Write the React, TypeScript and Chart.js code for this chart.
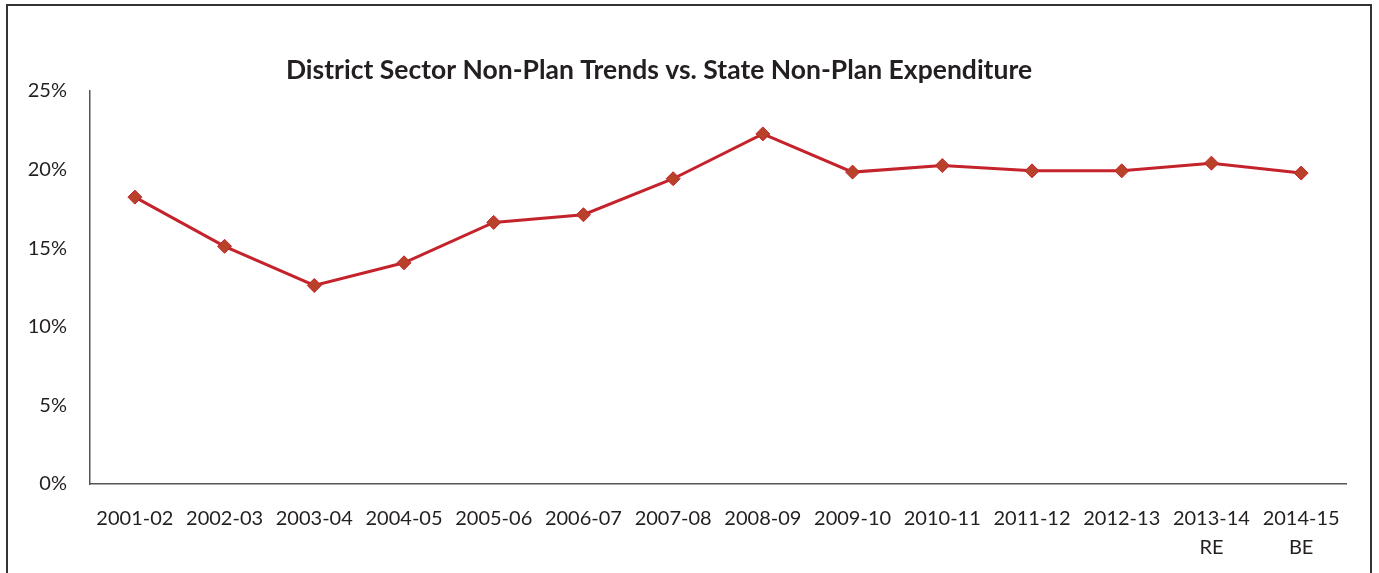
import React, { useEffect, useRef } from "react";
import { Chart, registerables } from "chart.js";

Chart.register(...registerables);

const categories: (string | string[])[] = [
  "2001-02", "2002-03", "2003-04", "2004-05", "2005-06", "2006-07", "2007-08",
  "2008-09", "2009-10", "2010-11", "2011-12", "2012-13", ["2013-14", "RE"], ["2014-15", "BE"],
];
const shareValues: number[] = [
  18.25, 15.12, 12.63, 14.07, 16.64, 17.13, 19.42, 22.27, 19.84, 20.26, 19.92, 19.92, 20.41, 19.78,
];
const yTicks: number[] = [0, 5, 10, 15, 20, 25];
const titleText = "District Sector Non-Plan Trends vs. State Non-Plan Expenditure";

const FONT = "Lato, 'Noto Sans', sans-serif";

export default function App() {
  const ref = useRef<HTMLCanvasElement | null>(null);
  useEffect(() => {
    if (!ref.current) return;
    const titlePlugin = {
      id: "customTitle",
      afterDraw(chart: any) {
        const ctx = chart.ctx;
        ctx.save();
        ctx.font = `bold 26.5px ${FONT}`;
        ctx.fillStyle = "#231f20";
        ctx.textAlign = "center";
        ctx.textBaseline = "middle";
        ctx.fillText(titleText, 659, 70);
        ctx.restore();
      },
    };
    const chart = new Chart(ref.current, {
      type: "line",
      data: {
        labels: categories,
        datasets: [
          {
            data: shareValues,
            borderColor: "#c4232b",
            borderWidth: 3,
            pointStyle: "rectRot",
            pointRadius: 7,
            pointBackgroundColor: "#b8412a",
            pointBorderColor: "#c4232b",
            pointBorderWidth: 1,
            tension: 0,
          },
        ],
      },
      options: {
        animation: false,
        responsive: false,
        layout: { padding: { left: 0, right: 33, top: 91, bottom: 0 } },
        plugins: { legend: { display: false }, title: { display: false }, tooltip: { enabled: false } },
        scales: {
          x: {
            offset: true,
            grid: { display: false, drawTicks: false },
            border: { display: true, color: "#555", width: 1.5 },
            ticks: {
              color: "#231f20",
              font: { family: FONT, size: 20, lineHeight: 1.45 },
              padding: 20,
              maxRotation: 0,
              autoSkip: false,
            },
            afterFit(scale: any) {
              scale.height = 89;
            },
          },
          y: {
            min: 0,
            max: 25,
            afterBuildTicks(scale: any) {
              scale.ticks = yTicks.map((v) => ({ value: v }));
            },
            grid: { display: false, drawTicks: false },
            border: { display: true, color: "#555", width: 1.5 },
            ticks: {
              color: "#231f20",
              font: { family: FONT, size: 20 },
              padding: 23,
              callback: (v: any) => `${v}%`,
            },
            afterFit(scale: any) {
              scale.width = 90;
            },
          },
        },
      },
      plugins: [titlePlugin],
    });
    return () => chart.destroy();
  }, []);
  return (
    <div style={{ position: "fixed", left: 0, top: 0, width: 1379, height: 573, background: "#fff", overflow: "hidden" }}>
      <div
        style={{
          position: "absolute",
          left: 6,
          top: 4,
          width: 1362,
          height: 600,
          border: "2px solid #333",
        }}
      />
      <canvas ref={ref} width={1379} height={573} style={{ position: "absolute", left: 0, top: 0 }} />
    </div>
  );
}
